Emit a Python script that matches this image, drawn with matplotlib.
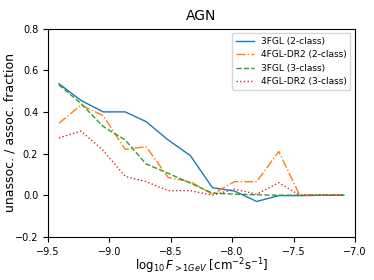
import matplotlib
matplotlib.use("Agg")
import matplotlib.pyplot as plt
import numpy as np

x = [-9.41, -9.23, -9.05, -8.87, -8.70, -8.52, -8.34, -8.16, -7.98, -7.80, -7.62, -7.45, -7.27, -7.09]
fgl3_2c = [0.535, 0.455, 0.40, 0.40, 0.353, 0.265, 0.19, 0.036, 0.02, -0.03, -0.002, -0.002, 0.0, 0.0]
fgl4_2c = [0.345, 0.433, 0.382, 0.22, 0.233, 0.085, 0.065, 0.005, 0.065, 0.065, 0.21, 0.0, 0.0, 0.0]
fgl3_3c = [0.53, 0.44, 0.33, 0.265, 0.15, 0.105, 0.058, 0.01, 0.005, 0.002, 0.0, 0.0, 0.0, 0.0]
fgl4_3c = [0.275, 0.308, 0.215, 0.09, 0.065, 0.022, 0.022, 0.0, 0.029, 0.005, 0.06, 0.0, 0.0, 0.0]
labels = ["3FGL (2-class)", "4FGL-DR2 (2-class)", "3FGL (3-class)", "4FGL-DR2 (3-class)"]

fig = plt.figure(figsize=(3.74, 2.8), dpi=100)
ax = fig.add_axes([0.128, 0.154, 0.821, 0.744])
ax.plot(x, fgl3_2c, color="tab:blue", ls="-", lw=1.0, label=labels[0])
ax.plot(x, fgl4_2c, color="tab:orange", ls="-.", lw=1.0, label=labels[1])
ax.plot(x, fgl3_3c, color="tab:green", ls="--", lw=1.0, label=labels[2])
ax.plot(x, fgl4_3c, color="tab:red", ls=":", lw=1.0, label=labels[3])
ax.set_xlim(-9.5, -7.0)
ax.set_ylim(-0.2, 0.8)
ax.set_xticks(np.arange(-9.5, -6.99, 0.5))
ax.set_yticks(np.arange(-0.2, 0.81, 0.2))
ax.tick_params(labelsize=7)
ax.set_title("AGN", fontsize=10)
ax.set_ylabel("unassoc. / assoc. fraction", fontsize=9)
ax.set_xlabel(r"$\log_{10}F_{>1GeV}$ [cm$^{-2}$s$^{-1}$]", fontsize=8.5)
ax.yaxis.set_label_coords(-0.101, 0.5)
ax.xaxis.set_label_coords(0.5, -0.092)
ax.legend(loc="upper right", fontsize=6.5)
fig.savefig("out.png", dpi=100)
